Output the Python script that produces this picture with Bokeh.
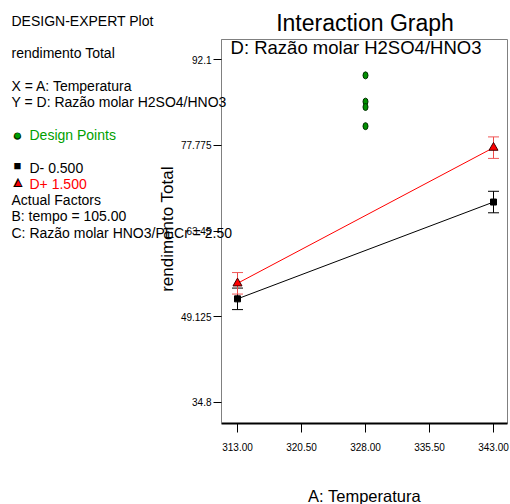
from bokeh.plotting import figure
from bokeh.models import Label, FixedTicker, Whisker, TeeHead, ColumnDataSource, Range1d
from bokeh.embed import file_html
from bokeh.resources import INLINE

# ---- data ----
temps = [313.0, 343.0]
d_minus = [52.1, 68.3]
d_minus_err = [1.8, 1.8]
d_plus = [54.7, 77.4]
d_plus_err = [1.8, 1.8]
design_x = [328.0, 328.0, 328.0, 328.0]
design_y = [89.5, 85.1, 84.2, 81.0]
x_ticks = [313.0, 320.5, 328.0, 335.5, 343.0]
x_tick_labels = ["313.00", "320.50", "328.00", "335.50", "343.00"]
y_ticks = [34.8, 49.125, 63.45, 77.775, 92.1]
y_tick_labels = ["34.8", "49.125", "63.45", "77.775", "92.1"]

FONT = "Liberation Sans"
XS, XE = 311.125, 344.64
YS, YE = 31.24, 95.5
FL, FR, FT, FB = 221, 507, 39, 423

p = figure(frame_width=FR - FL, frame_height=FB - FT, output_backend="svg", toolbar_location=None,
           x_range=Range1d(XS, XE), y_range=Range1d(YS, YE),
           min_border_left=FL, min_border_right=3, min_border_top=FT, min_border_bottom=81)
p.grid.visible = False
p.outline_line_color = "#808080"
p.outline_line_width = 1

# axes
p.xaxis.ticker = FixedTicker(ticks=x_ticks)
p.xaxis.major_label_overrides = dict(zip(x_ticks, x_tick_labels))
p.xaxis.axis_line_width = 2
p.xaxis.axis_line_color = "black"
p.xaxis.major_tick_out = 9
p.xaxis.major_tick_in = 0
p.xaxis.minor_tick_line_color = None
p.xaxis.major_label_standoff = 10
p.xaxis.major_label_text_font = FONT
p.xaxis.major_label_text_font_size = "10px"
p.xaxis.major_label_text_color = "black"

p.yaxis.ticker = FixedTicker(ticks=y_ticks)
p.yaxis.major_label_overrides = dict(zip(y_ticks, y_tick_labels))
p.yaxis.axis_line_color = "#808080"
p.yaxis.major_tick_out = 8
p.yaxis.major_tick_in = 0
p.yaxis.minor_tick_line_color = None
p.yaxis.major_label_standoff = 2
p.yaxis.major_label_text_font = FONT
p.yaxis.major_label_text_font_size = "10px"
p.yaxis.major_label_text_color = "black"

# lines
p.line(temps, d_plus, line_color="#ff0000", line_width=1)
p.line(temps, d_minus, line_color="black", line_width=1)

# error bars
src_m = ColumnDataSource(dict(x=temps,
                              upper=[v + e for v, e in zip(d_minus, d_minus_err)],
                              lower=[v - e for v, e in zip(d_minus, d_minus_err)]))
src_p = ColumnDataSource(dict(x=temps,
                              upper=[v + e for v, e in zip(d_plus, d_plus_err)],
                              lower=[v - e for v, e in zip(d_plus, d_plus_err)]))
p.add_layout(Whisker(source=src_m, base="x", upper="upper", lower="lower", line_color="black",
                     upper_head=TeeHead(size=11, line_color="black"),
                     lower_head=TeeHead(size=11, line_color="black")))
p.add_layout(Whisker(source=src_p, base="x", upper="upper", lower="lower", line_color="#f04848",
                     upper_head=TeeHead(size=11, line_color="#f05858"),
                     lower_head=TeeHead(size=11, line_color="#f05858")))

# markers
p.scatter(temps, d_minus, marker="square", size=6, fill_color="black", line_color="black")
p.scatter(temps, d_plus, marker="triangle", size=9, fill_color="#ff0000", line_color="#400000")
p.ellipse(design_x, design_y, width=5, height=7, width_units="screen", height_units="screen",
          fill_color="#009000", line_color="#003000")


# ---- texts (placed through the frame scales, kept in a side panel so they are not clipped) ----
def dx(px):
    return XS + (px - FL) * (XE - XS) / (FR - FL)


def dy(py):
    return YE - (py - FT) * (YE - YS) / (FB - FT)


def lab(text, px, py, size, color="black", align="left", baseline="alphabetic", angle=0.0):
    p.add_layout(Label(x=dx(px), y=dy(py), x_units="data", y_units="data", text=text,
                       text_font=FONT, text_font_size=size, text_color=color,
                       text_align=align, text_baseline=baseline, angle=angle), "below")


lab("Interaction Graph", 364.5, 22, "23px", align="center")
lab("D: Razão molar H2SO4/HNO3", 355.5, 46.5, "18.5px", align="center")
lab("A: Temperatura", 364, 495.5, "16.5px", align="center")
lab("rendimento Total", 166.5, 228.5, "17px", align="center", angle=1.5707963)

lab("DESIGN-EXPERT Plot", 11, 20, "14px")
lab("rendimento Total", 11, 52, "14px")
lab("X = A: Temperatura", 11, 85, "14px")
lab("Y = D: Razão molar H2SO4/HNO3", 11, 101, "14px")
lab("●", 17, 134.5, "17px", color="#003000", align="center", baseline="middle")
lab("●", 17, 134.5, "12px", color="#00a000", align="center", baseline="middle")
lab("Design Points", 29, 134, "14px", color="#00a000")
lab("■", 17, 164.5, "13px", align="center", baseline="middle")
lab("D- 0.500", 29, 167, "14px")
lab("▲", 17.5, 180.5, "16px", align="center", baseline="middle")
lab("▲", 17.5, 181.5, "10px", color="#ff0000", align="center", baseline="middle")
lab("D+ 1.500", 29, 183, "14px", color="#ff0000")
lab("Actual Factors", 11, 199, "14px")
lab("B: tempo = 105.00", 11, 215.5, "14px")
lab("C: Razão molar HNO3/PECr = 2.50", 11, 232, "14px")

open("out.html", "w").write(file_html(p, INLINE))
